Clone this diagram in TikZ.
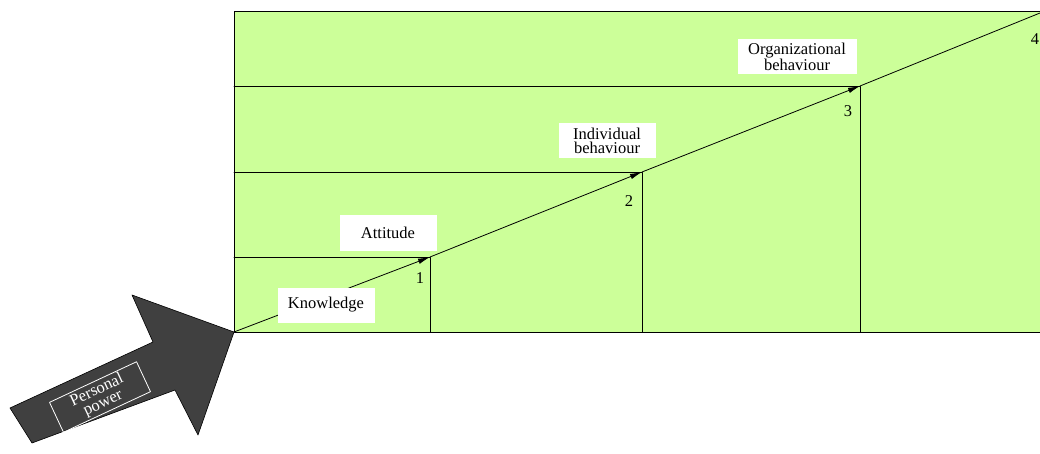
\documentclass[tikz,border=0pt]{standalone}
\usepackage{fontspec}
\setmainfont{Liberation Serif}
\usetikzlibrary{arrows.meta}
\definecolor{ccffqq}{rgb}{0.8,1.0,0.6}
\definecolor{sqsqsq}{rgb}{0.25,0.25,0.25}
\begin{document}
\begin{tikzpicture}[line cap=round,line join=round,>={Latex[length=12pt,width=5.5pt]},x=1pt,y=-1pt,line width=0.8pt,
  stage/.style={fill=white,inner xsep=10pt,inner ysep=2pt,minimum width=97pt,minimum height=35pt,align=center,font=\fontsize{16.5}{14.5}\selectfont},
  num/.style={font=\fontsize{16.5}{14.5}\selectfont,inner sep=0pt}]
\useasboundingbox (0,0) rectangle (1040,454);
\coordinate (O) at (234,332);
\coordinate (TL) at (234,11);
\coordinate (BR) at (1040,332);
\coordinate (P1) at (430,257);
\coordinate (P2) at (642,172);
\coordinate (P3) at (860,86);
\coordinate (P4) at (1040,13);
\fill [color=ccffqq] (TL) rectangle (BR);
\draw (TL) rectangle (BR);
\draw (O|-P1)-- (P1)-- (P1|-O);
\draw (O|-P2)-- (P2)-- (P2|-O);
\draw (O|-P3)-- (P3)-- (P3|-O);
\draw [->] (O)-- (P1);
\draw [->] (P1)-- (P2);
\draw [->] (P2)-- (P3);
\draw (P3)-- (P4);
\filldraw [fill=sqsqsq,draw=black,line width=0.6pt] (O)-- (132,295)-- (153,342)-- (10,408)-- (32,443)-- (175,390)-- (198,435)-- cycle;
\node [draw=white,text=white,rotate=25,minimum width=96pt,minimum height=33pt,inner sep=1pt,align=center,font=\fontsize{16.5}{14.5}\selectfont] (pp) at (100,397) {Personal\\power};
\node [stage] (kn) at (326,305) {Knowledge};
\node [stage] (at) at (388,233) {Attitude};
\node [stage] (ib) at (607,141) {Individual\\behaviour};
\node [stage,minimum width=119pt] (ob) at (797,57) {Organizational\\behaviour};
\node [num] (n1) at (420,278) {1};
\node [num] (n2) at (629,201) {2};
\node [num] (n3) at (848,111) {3};
\node [num] (n4) at (1035,39) {4};
\end{tikzpicture}
\end{document}
